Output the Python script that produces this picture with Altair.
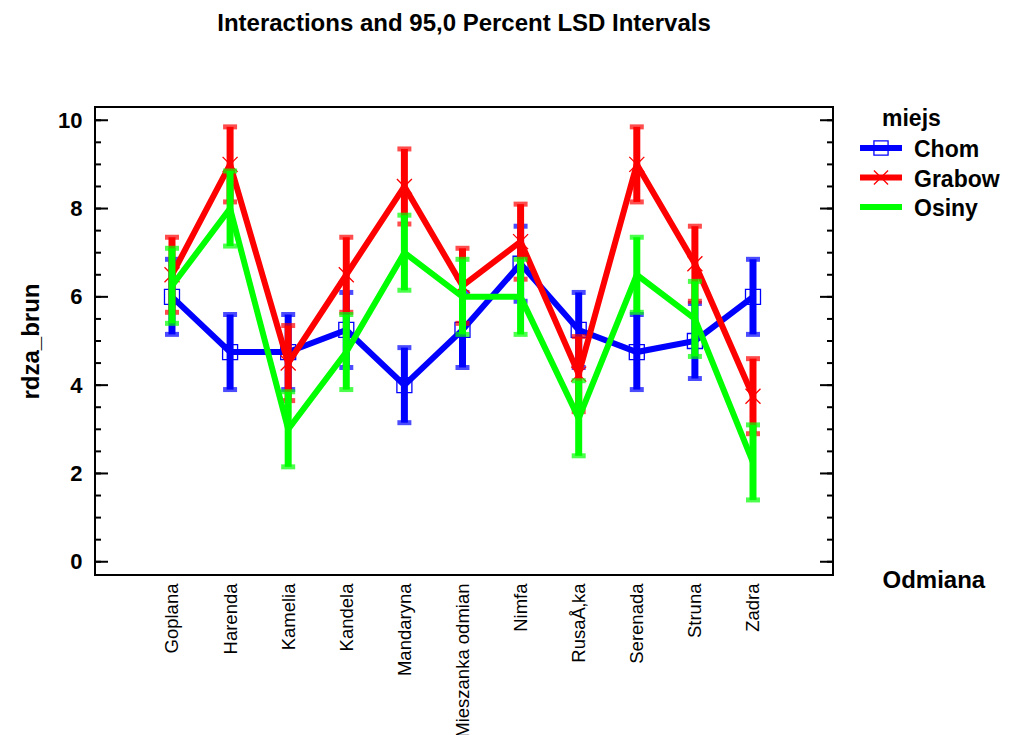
import json
import altair as alt
import pandas as pd

categories = ["Goplana", "Harenda", "Kamelia", "Kandela", "Mandaryna",
              "Mieszanka odmian", "Nimfa", "RusaÅ‚ka", "Serenada", "Struna", "Zadra"]
series = ["Chom", "Grabow", "Osiny"]
chom = [6.0, 4.75, 4.75, 5.25, 4.0, 5.25, 6.75, 5.25, 4.75, 5.0, 6.0]
grabow = [6.5, 9.0, 4.5, 6.5, 8.5, 6.25, 7.25, 4.25, 9.0, 6.75, 3.75]
osiny = [6.25, 8.0, 3.0, 4.75, 7.0, 6.0, 6.0, 3.25, 6.5, 5.5, 2.25]
lsd_half = [0.85, 0.85, 0.85]
colors = ["#0000FF", "#FF0000", "#00FF00"]
y_major = [0, 2, 4, 6, 8, 10]
y_minor = [0.5 * i for i in range(21)]

FONT = "Liberation Sans"
W, H = 738, 468

values = {"Chom": chom, "Grabow": grabow, "Osiny": osiny}
idx = list(range(len(categories)))

x_scale = alt.Scale(domain=[-1.325, 11.377], nice=False, zero=False)
x_axis = alt.Axis(title="Odmiana", values=idx,
                  labelExpr=json.dumps(categories) + "[datum.value]",
                  labelAngle=270, labelFontSize=18.5, labelFont=FONT,
                  labelColor="black", labelPadding=8, ticks=False, tickSize=0,
                  domain=False, grid=False, titleX=787, titleY=12, titleAlign="left",
                  titleBaseline="alphabetic", titleAngle=0, titleFontSize=24,
                  titleFont=FONT, titleFontWeight="bold", titleColor="black",
                  labelLimit=400, labelFlush=False, labelOverlap=False)
y_scale = alt.Scale(domain=[-0.3, 10.3], nice=False, zero=False)
y_axis = alt.Axis(title="rdza_brun", values=y_major, labelFontSize=22, labelFont=FONT,
                  labelFontWeight="bold", labelColor="black", labelPadding=13,
                  ticks=False, tickSize=0, domain=False, grid=False,
                  titleX=-64, titleY=H / 2, titleAngle=270, titleAlign="center",
                  titleBaseline="middle", titleFontSize=24, titleFont=FONT,
                  titleFontWeight="bold", titleColor="black")


def xenc():
    return alt.X("i:Q", scale=x_scale, axis=x_axis)


def yenc(field):
    return alt.Y(f"{field}:Q", scale=y_scale, axis=y_axis)


layers = []

# inward ticks on both sides
maj = pd.DataFrame({"v": y_major})
mino = pd.DataFrame({"v": y_minor})
for df_t, ln in ((mino, 6), (maj, 13)):
    layers.append(alt.Chart(df_t).mark_rule(color="black", strokeWidth=2).encode(
        y=yenc("v"), x=alt.value(0), x2=alt.value(ln)))
    layers.append(alt.Chart(df_t).mark_rule(color="black", strokeWidth=2).encode(
        y=yenc("v"), x=alt.value(W - ln), x2=alt.value(W)))

for k, s in enumerate(series):
    c = colors[k]
    means = values[s]
    df = pd.DataFrame({
        "i": idx,
        "cat": categories,
        "mean": means,
        "lo": [m - lsd_half[k] for m in means],
        "hi": [m + lsd_half[k] for m in means],
    })
    base = alt.Chart(df)
    layers.append(base.mark_line(color=c, strokeWidth=6).encode(x=xenc(), y=yenc("mean")))
    layers.append(base.mark_rule(color=c, strokeWidth=7).encode(
        x=xenc(), y=yenc("lo"), y2="hi:Q"))
    layers.append(base.mark_tick(color=c, thickness=5, size=14, orient="horizontal").encode(
        x=xenc(), y=yenc("lo")))
    layers.append(base.mark_tick(color=c, thickness=5, size=14, orient="horizontal").encode(
        x=xenc(), y=yenc("hi")))
    if s == "Chom":
        layers.append(base.mark_point(shape="square", size=225, filled=False, color=c,
                                      strokeWidth=1.3, opacity=1).encode(x=xenc(), y=yenc("mean")))
    elif s == "Grabow":
        layers.append(base.mark_point(shape="M-1,-1L1,1M-1,1L1,-1", size=225, filled=False,
                                      color=c, strokeWidth=1.3, opacity=1).encode(
            x=xenc(), y=yenc("mean")))

# legend (drawn manually to the right of the plot)
leg_title = pd.DataFrame({"t": ["miejs"]})
layers.append(alt.Chart(leg_title).mark_text(font=FONT, fontSize=23, fontWeight="bold",
                                             align="left", baseline="middle", color="black").encode(
    text="t:N", x=alt.value(787), y=alt.value(12)))
for k, s in enumerate(series):
    c = colors[k]
    yy = 41 + 29.5 * k
    d = pd.DataFrame({"label": [s]})
    b = alt.Chart(d)
    layers.append(b.mark_rule(color=c, strokeWidth=6).encode(
        x=alt.value(765), x2=alt.value(807), y=alt.value(yy)))
    if s == "Chom":
        layers.append(b.mark_point(shape="square", size=200, filled=False, color=c,
                                   strokeWidth=1.3, opacity=1).encode(
            x=alt.value(786), y=alt.value(yy)))
    elif s == "Grabow":
        layers.append(b.mark_point(shape="M-1,-1L1,1M-1,1L1,-1", size=200, filled=False,
                                   color=c, strokeWidth=1.3, opacity=1).encode(
            x=alt.value(786), y=alt.value(yy)))
    layers.append(b.mark_text(font=FONT, fontSize=23, fontWeight="bold", align="left",
                              baseline="middle", color="black").encode(
        text="label:N", x=alt.value(819), y=alt.value(yy + 2)))

chart = alt.layer(*layers).properties(
    width=W, height=H,
    title=alt.TitleParams("Interactions and 95,0 Percent LSD Intervals", font=FONT,
                          fontSize=24, fontWeight="bold", anchor="middle",
                          baseline="alphabetic", offset=52, color="black"),
    padding={"left": 87, "top": 99, "right": 168, "bottom": 160},
    autosize=alt.AutoSizeParams(type="none"),
).configure(background="white").configure_view(stroke="black", strokeWidth=2)

chart.save("out.html", embed_options={"renderer": "svg", "actions": False})
